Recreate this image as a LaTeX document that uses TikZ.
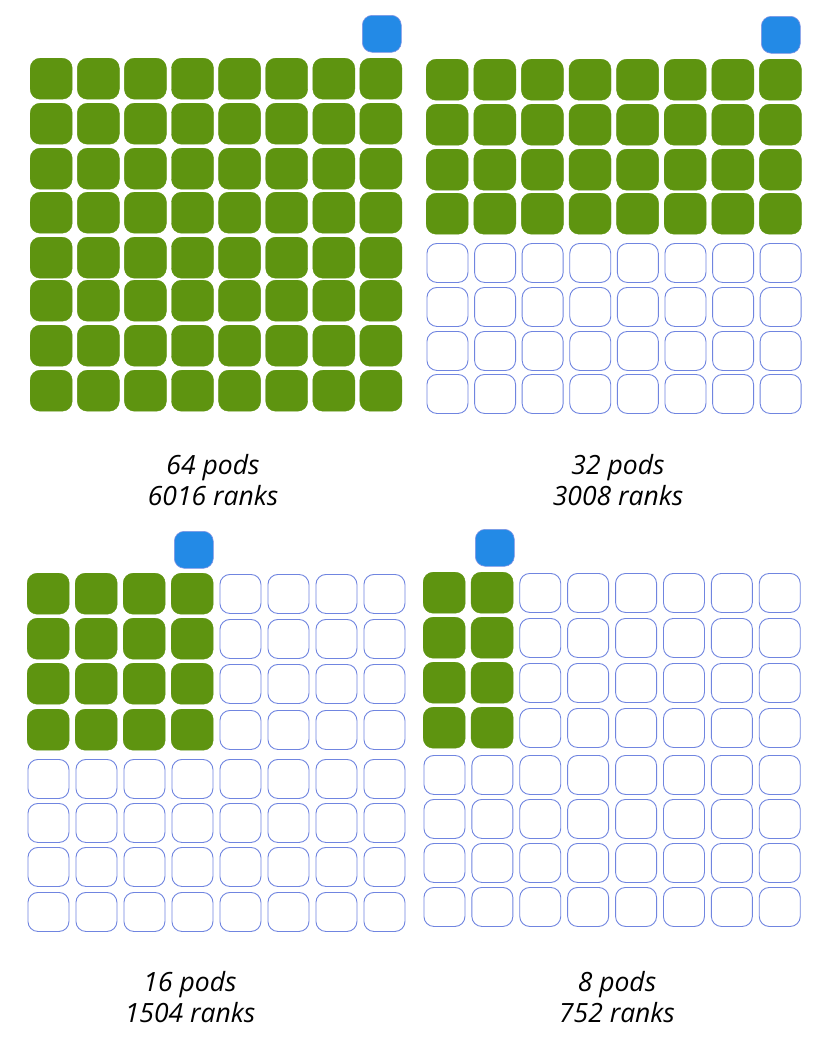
\documentclass[tikz,border=0pt]{standalone}
\usepackage{fontspec}
\setmainfont{Open Sans}
\definecolor{podgreen}{HTML}{5E9410}
\definecolor{podblue}{HTML}{238AE6}
\definecolor{podline}{HTML}{4C66D8}
\tikzset{
  cellbase/.style={rectangle, rounded corners=10pt, inner sep=0pt, anchor=north west},
  fullcell/.style={cellbase, fill=podgreen, draw=podgreen, line width=0.4pt, minimum width=42pt, minimum height=41pt},
  emptycell/.style={cellbase, fill=white, draw=podline!80, line width=0.9pt, minimum width=41pt, minimum height=39pt},
  headcell/.style={cellbase, fill=podblue, draw=podline!70, line width=0.6pt, minimum width=39pt, minimum height=37pt},
  caption/.style={align=center, font=\fontsize{26.5}{31}\selectfont\itshape, inner sep=0pt}
}
\newcommand\podpanel[6]{%
  \foreach \yy [count=\r] in {#4} {
    \foreach \c in {1,...,8} {
      \pgfmathsetmacro\xx{#2+(\c-1)*#3}
      \pgfmathtruncatemacro\isfull{(\r<=#5 && \c<=#6) ? 1 : 0}
      \ifnum\isfull=1
        \node[fullcell] (#1-\r-\c) at (\xx,\yy) {};
      \else
        \node[emptycell] (#1-\r-\c) at (\xx+0.5,\yy+1) {};
      \fi
    }
  }
}
\begin{document}
\begin{tikzpicture}[x=1pt,y=-1pt]
\useasboundingbox (0,0) rectangle (823,1060);
\fill[white] (0,0) rectangle (823,1060);
% top-left
\podpanel{tl}{30}{47.1}{58,103,148,192,237,280,325,370}{8}{8}
\node[headcell] (tlhead) at (362,15) {};
\node[caption] (tltext) at (213,480) {64 pods\\6016 ranks};
% top-right
\podpanel{tr}{426}{47.6}{59,104,149,193,242,286,330,373}{4}{8}
\node[headcell] (trhead) at (761,16) {};
\node[caption] (trtext) at (618,480) {32 pods\\3008 ranks};
% bottom-left
\podpanel{bl}{27}{48}{573,618,663,709,758,802,846,891}{4}{4}
\node[headcell] (blhead) at (174,531) {};
\node[caption] (bltext) at (190,997) {16 pods\\1504 ranks};
% bottom-right
\podpanel{br}{423}{47.9}{572,617,662,707,754,798,842,886}{4}{2}
\node[headcell] (brhead) at (475,529) {};
\node[caption] (brtext) at (617,997) {8 pods\\752 ranks};
\end{tikzpicture}
\end{document}
